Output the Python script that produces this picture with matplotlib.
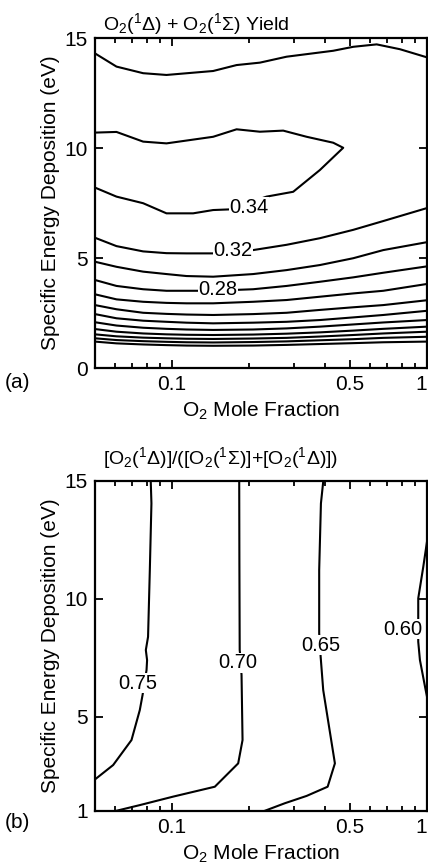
import numpy as np
import matplotlib.pyplot as plt
from matplotlib.ticker import FixedLocator, NullFormatter

plt.rcParams['font.family'] = ['Liberation Sans', 'DejaVu Sans']
plt.rcParams['mathtext.fontset'] = 'custom'
plt.rcParams['mathtext.rm'] = 'Liberation Sans'
plt.rcParams['mathtext.it'] = 'Liberation Sans'
plt.rcParams['mathtext.default'] = 'regular'

# ---- panel (a): O2(1D)+O2(1S) yield contours, x = O2 mole fraction, y = eV
a_top_x = [0.05, 0.0607, 0.0772, 0.0953, 0.1452, 0.1794, 0.2214, 0.2817, 0.4291, 0.514, 0.635, 0.7836, 1.0]
a_top_y = [14.30, 13.70, 13.40, 13.32, 13.50, 13.77, 13.88, 14.15, 14.42, 14.60, 14.71, 14.49, 14.12]

a_034_x = [0.05, 0.0607, 0.0772, 0.0953, 0.1452, 0.1794, 0.2214, 0.2732, 0.3375, 0.429, 0.4695,
           0.3805, 0.299, 0.2351, 0.1689, 0.1452, 0.1212, 0.0953, 0.0772, 0.0607, 0.05]
a_034_y = [10.70, 10.73, 10.29, 10.21, 10.51, 10.85, 10.74, 10.79, 10.51, 10.24, 10.01,
           9.00, 8.01, 7.79, 7.21, 7.18, 7.03, 7.03, 7.49, 7.79, 8.20]

a_032_x = [0.05, 0.0607, 0.0772, 0.0953, 0.1142, 0.1452, 0.2083, 0.2817, 0.3805, 0.514, 0.6741, 1.0]
a_032_y = [5.92, 5.54, 5.30, 5.22, 5.21, 5.21, 5.36, 5.60, 5.90, 6.28, 6.68, 7.27]

# lower contour levels share one x grid
a_low_x = [0.05, 0.0607, 0.0772, 0.0953, 0.1142, 0.1452, 0.2083, 0.2817, 0.3805, 0.514, 0.6741, 1.0]
a_030_y = [4.83, 4.60, 4.38, 4.27, 4.18, 4.15, 4.27, 4.45, 4.68, 4.99, 5.36, 5.72]
a_028_y = [4.00, 3.73, 3.58, 3.51, 3.51, 3.51, 3.58, 3.73, 3.92, 4.12, 4.33, 4.62]
a_026_y = [3.35, 3.12, 3.01, 2.96, 2.94, 2.94, 3.01, 3.09, 3.24, 3.39, 3.51, 3.82]
a_024_y = [2.86, 2.67, 2.51, 2.46, 2.43, 2.41, 2.45, 2.51, 2.64, 2.76, 2.86, 3.08]
a_022_y = [2.45, 2.26, 2.15, 2.10, 2.06, 2.03, 2.06, 2.10, 2.18, 2.30, 2.41, 2.60]
a_020_y = [2.08, 1.93, 1.83, 1.78, 1.75, 1.73, 1.75, 1.80, 1.88, 1.98, 2.07, 2.18]
a_018_y = [1.77, 1.65, 1.57, 1.53, 1.51, 1.50, 1.52, 1.56, 1.62, 1.70, 1.78, 1.88]
a_016_y = [1.53, 1.44, 1.38, 1.35, 1.33, 1.32, 1.34, 1.37, 1.43, 1.50, 1.57, 1.65]
a_014_y = [1.35, 1.27, 1.22, 1.19, 1.17, 1.16, 1.18, 1.21, 1.26, 1.31, 1.37, 1.42]
a_012_y = [1.20, 1.12, 1.07, 1.04, 1.02, 1.01, 1.02, 1.05, 1.09, 1.13, 1.17, 1.20]

a_labels = ['0.34', '0.32', '0.28']
a_label_x = [0.200, 0.173, 0.152]
a_label_y = [7.30, 5.36, 3.55]

# ---- panel (b): singlet delta fraction contours
b_075_x = [0.0827, 0.0832, 0.0820, 0.0807, 0.0791, 0.0800, 0.0796, 0.0768, 0.0749, 0.0695, 0.0589, 0.05]
b_075_y = [14.97, 14.05, 11.22, 8.39, 7.83, 7.40, 6.98, 5.92, 5.28, 4.01, 2.95, 2.34]

b_070_x = [0.1837, 0.1840, 0.1845, 0.1850, 0.1876, 0.1893, 0.1820, 0.1474, 0.1012, 0.0749, 0.0607]
b_070_y = [14.97, 11.50, 7.83, 7.70, 6.77, 4.01, 3.02, 2.03, 1.61, 1.25, 1.01]

b_065_x = [0.392, 0.384, 0.378, 0.378, 0.383, 0.392, 0.4356, 0.408, 0.3375, 0.2774, 0.2316]
b_065_y = [14.97, 14.05, 11.22, 8.54, 7.55, 6.13, 3.02, 2.03, 1.64, 1.33, 1.01]

b_060_x = [1.0, 0.967, 0.924, 0.924, 0.924, 0.938, 0.988, 1.0]
b_060_y = [12.43, 11.36, 10.02, 9.53, 8.18, 7.41, 6.13, 5.85]

b_labels = ['0.75', '0.70', '0.65', '0.60']
b_label_x = [0.0733, 0.181, 0.385, 0.805]
b_label_y = [6.43, 7.28, 8.04, 8.72]

x_major = [0.1, 0.5, 1.0]
x_major_labels = ['0.1', '0.5', '1']
x_minor = [0.06, 0.07, 0.08, 0.09, 0.2, 0.3, 0.4, 0.6, 0.7, 0.8, 0.9]

FS = 15
FS_TITLE = 14
FS_LAB = 14.5
LW = 1.5

fig = plt.figure(figsize=(4.28, 8.67), dpi=100)
ax_a = fig.add_axes([95 / 428, 499 / 867, 332 / 428, 330 / 867])
ax_b = fig.add_axes([95 / 428, 56 / 867, 332 / 428, 330 / 867])


def style_axes(ax, yticks, ylim):
    ax.set_xscale('log')
    ax.set_xlim(0.05, 1.0)
    ax.set_ylim(*ylim)
    ax.xaxis.set_major_locator(FixedLocator(x_major))
    ax.xaxis.set_minor_locator(FixedLocator(x_minor))
    ax.xaxis.set_minor_formatter(NullFormatter())
    ax.set_xticklabels(x_major_labels)
    ax.get_xticklabels()[-1].set_horizontalalignment('right')
    ax.set_yticks(yticks)
    ax.tick_params(which='both', direction='in', top=True, right=True,
                   labelsize=FS, width=1.3, pad=5)
    ax.tick_params(which='major', length=6)
    ax.tick_params(which='minor', length=3.5)
    for sp in ax.spines.values():
        sp.set_linewidth(1.6)
    ax.set_xlabel(r'O$_2$ Mole Fraction', fontsize=FS)
    ax.set_ylabel('Specific Energy Deposition (eV)', fontsize=FS)
    ax.yaxis.set_label_coords(-0.105, 0.5)
    ax.xaxis.set_label_coords(0.5, -0.095)


# panel (a)
style_axes(ax_a, [0, 5, 10, 15], (0, 15))
ax_a.plot(a_top_x, a_top_y, color='black', lw=LW)
ax_a.plot(a_034_x, a_034_y, color='black', lw=LW)
ax_a.plot(a_032_x, a_032_y, color='black', lw=LW)
for yy in [a_030_y, a_028_y, a_026_y, a_024_y, a_022_y, a_020_y,
           a_018_y, a_016_y, a_014_y, a_012_y]:
    ax_a.plot(a_low_x, yy, color='black', lw=LW)
for lab, lx, ly in zip(a_labels, a_label_x, a_label_y):
    ax_a.text(lx, ly, lab, fontsize=FS_LAB, ha='center', va='center', zorder=5,
              bbox=dict(fc='white', ec='none', pad=0.3))

# panel (b)
style_axes(ax_b, [1, 5, 10, 15], (1, 15))
for xx, yy in [(b_075_x, b_075_y), (b_070_x, b_070_y),
               (b_065_x, b_065_y), (b_060_x, b_060_y)]:
    ax_b.plot(xx, yy, color='black', lw=LW)
for lab, lx, ly in zip(b_labels, b_label_x, b_label_y):
    ax_b.text(lx, ly, lab, fontsize=FS_LAB, ha='center', va='center', zorder=5,
              bbox=dict(fc='white', ec='none', pad=0.3))

fig.text(103 / 428, 1 - 24 / 867, r'O$_2$($^1\Delta$) + O$_2$($^1\Sigma$) Yield',
         fontsize=FS_TITLE, ha='left', va='center')
fig.text(103 / 428, 1 - 458 / 867,
         r'[O$_2$($^1\Delta$)]/([O$_2$($^1\Sigma$)]+[O$_2$($^1\Delta$)])',
         fontsize=FS_TITLE, ha='left', va='center')
fig.text(5 / 428, 1 - 383 / 867, '(a)', fontsize=FS, ha='left', va='center')
fig.text(5 / 428, 1 - 822 / 867, '(b)', fontsize=FS, ha='left', va='center')

fig.savefig('out.png', dpi=100)
